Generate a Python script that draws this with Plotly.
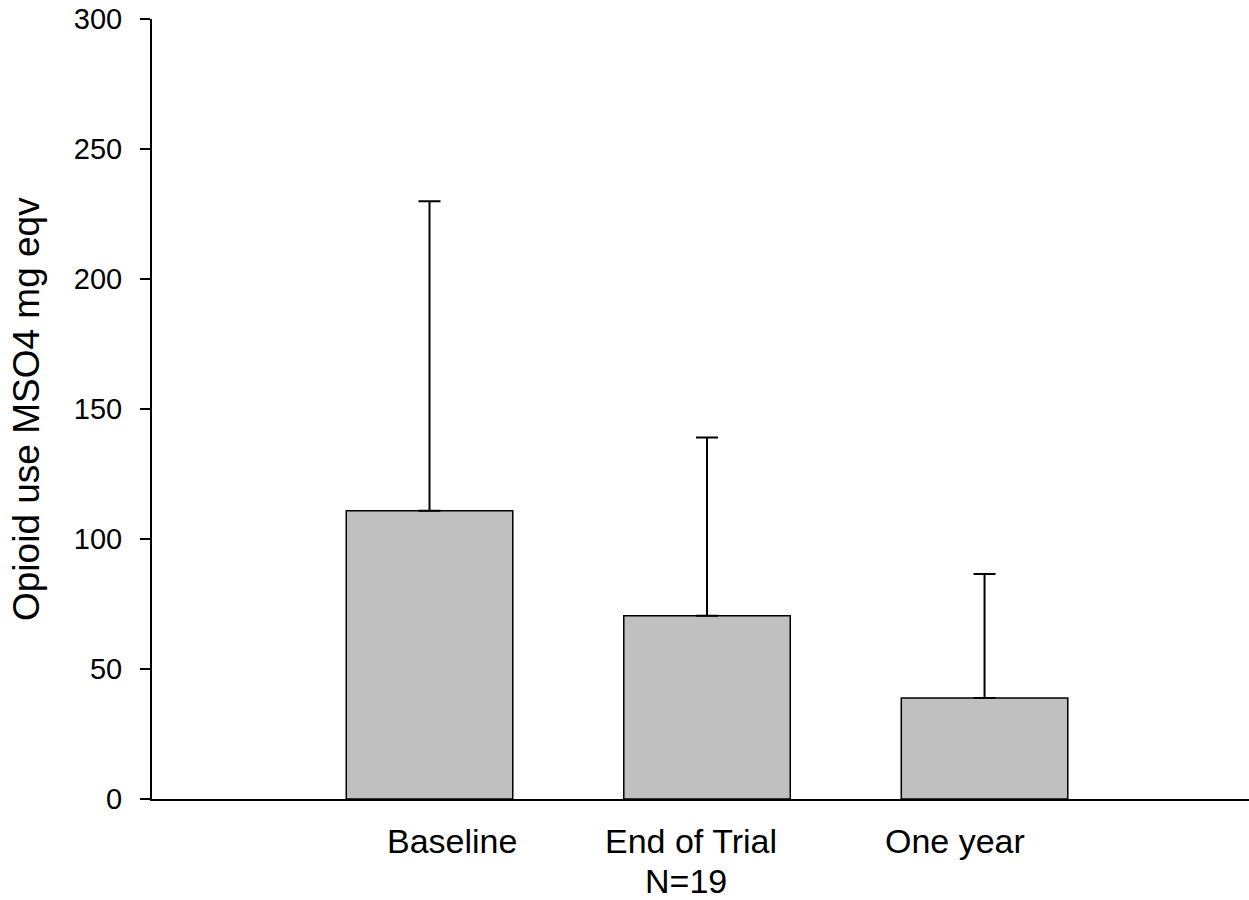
import plotly.graph_objects as go

categories = ["Baseline", "End of Trial", "One year"]
cat_pos = [1, 2, 3]
means = [110.9, 70.5, 38.8]
sd_upper = [119.0, 68.5, 47.7]
label_x = [1.081, 1.941, 2.895]
sub_label = ["", "N=19", ""]
sub_label_x = [1.081, 1.924, 2.895]
y_ticks = [0, 50, 100, 150, 200, 250, 300]
y_title = "Opioid use MSO4 mg eqv"

FONT = "Liberation Sans, Arial, sans-serif"

fig = go.Figure()
fig.add_trace(go.Bar(
    x=cat_pos, y=means, width=0.6,
    marker=dict(color="#C0C0C0", line=dict(color="black", width=1.5)),
    error_y=dict(type="data", symmetric=False, array=sd_upper,
                 arrayminus=[0, 0, 0], color="black", thickness=2, width=11),
    showlegend=False, hoverinfo="skip",
))

annotations = []
for name, xx in zip(categories, label_x):
    annotations.append(dict(x=xx, y=841, xref="x", yref="paper", text=name,
                            showarrow=False, font=dict(family=FONT, size=34, color="black"),
                            xanchor="center", yanchor="middle", borderpad=0))
for name, xx in zip(sub_label, sub_label_x):
    if name:
        annotations.append(dict(x=xx, y=881, xref="x", yref="paper", text=name,
                                showarrow=False, font=dict(family=FONT, size=34, color="black"),
                                xanchor="center", yanchor="middle", borderpad=0))
# convert pixel y to paper coords
plot_top, plot_bottom = 19.3, 799.3
for a in annotations:
    a["y"] = (plot_bottom - a["y"]) / (plot_bottom - plot_top)

annotations.append(dict(x=(26 - 152) / 1097, y=0.5, xref="paper", yref="paper",
                        text=y_title, textangle=-90, showarrow=False,
                        font=dict(family=FONT, size=37, color="black"),
                        xanchor="center", yanchor="middle"))

fig.update_layout(
    width=1249, height=900,
    margin=dict(l=152, r=0, t=19, b=101),
    paper_bgcolor="white", plot_bgcolor="white",
    font=dict(family=FONT, color="black"),
    xaxis=dict(range=[0, 3.953], showline=True, linecolor="black", linewidth=2,
               showgrid=False, zeroline=False, ticks="", showticklabels=False),
    yaxis=dict(range=[0, 300], tickvals=y_ticks, showline=True, linecolor="black",
               linewidth=2, showgrid=False, zeroline=False, ticks="outside",
               ticklen=10, tickwidth=2, tickcolor="black",
               tickfont=dict(family=FONT, size=29, color="black"),
               ticklabelstandoff=12),
    annotations=annotations,
)

fig.write_html("out.html")
